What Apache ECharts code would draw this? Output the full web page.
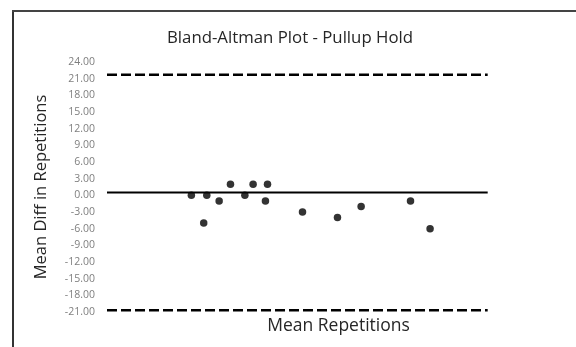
<!DOCTYPE html>
<html>
<head>
<meta charset="utf-8">
<script src="https://cdn.jsdelivr.net/npm/echarts@6/dist/echarts.min.js"></script>
<style>
html,body{margin:0;padding:0;background:#fff;}
#chart{width:576px;height:347px;}
</style>
</head>
<body>
<div id="chart"></div>
<script>
// values
var meanReps=[8.2,9.7,9.4,10.9,12.0,13.4,14.2,15.6,15.4,19.0,22.4,24.7,29.5,31.4];
var diffReps=[0,0,-5,-1,2,0,2,2,-1,-3,-4,-2,-1,-6];
var lineSpan=[0,37];
var bias=0.5;
var upperLoA=21.7;
var lowerLoA=-20.7;

var pts=meanReps.map(function(x,i){return [x,diffReps[i]];});
function flat(v){return [[lineSpan[0],v],[lineSpan[1],v]];}

var myChart=echarts.init(document.getElementById('chart'));
myChart.setOption({
	animation:false,
	textStyle:{fontFamily:'Open Sans'},
	title:{
		text:'Bland-Altman Plot - Pullup Hold',
		left:285,textAlign:'center',top:25,
		textStyle:{fontSize:16.8,fontWeight:'normal',color:'#262626',fontFamily:'Open Sans'}
	},
	graphic:[
		{type:'line',shape:{x1:13,y1:11,x2:13,y2:347},style:{stroke:'#333',lineWidth:2}},
		{type:'line',shape:{x1:12,y1:11,x2:576,y2:11},style:{stroke:'#444',lineWidth:2}}
	],
	grid:{left:107,right:6,top:62,bottom:35},
	xAxis:{
		type:'value',min:0,max:45,
		axisLine:{show:false},axisTick:{show:false},axisLabel:{show:false},splitLine:{show:false},
		name:'Mean Repetitions',nameLocation:'middle',nameGap:5,
		nameTextStyle:{fontSize:17.5,color:'#262626',verticalAlign:'top'}
	},
	yAxis:{
		type:'value',min:-21,max:24,interval:3,
		axisLine:{show:false},axisTick:{show:false},splitLine:{show:false},
		axisLabel:{color:'#7f7f7f',fontSize:10.5,margin:12,formatter:function(v){return v.toFixed(2);}},
		name:'Mean Diff in Repetitions',nameLocation:'middle',nameGap:57,
		nameTextStyle:{fontSize:16.5,color:'#262626'}
	},
	series:[
		{type:'line',data:flat(upperLoA),symbol:'none',lineStyle:{color:'#000',width:2.5,type:[10,4]}},
		{type:'line',data:flat(bias),symbol:'none',lineStyle:{color:'#000',width:2}},
		{type:'line',data:flat(lowerLoA),symbol:'none',lineStyle:{color:'#000',width:2.5,type:[10,4]}},
		{type:'scatter',data:pts,symbol:'circle',symbolSize:7.5,itemStyle:{color:'#000'}}
	]
});
</script>
</body>
</html>
